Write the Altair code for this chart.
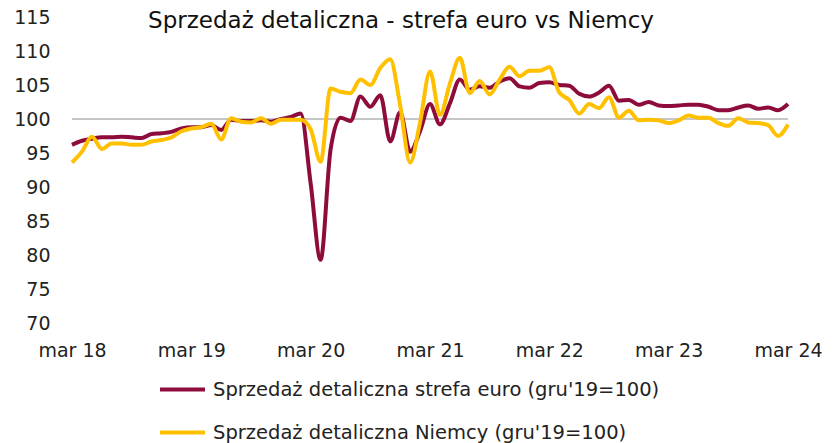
import altair as alt
import pandas as pd

# Monthly, mar 2018 .. mar 2024 (73 points)
euro = [96.2, 96.8, 97.1, 97.3, 97.3, 97.4, 97.3, 97.2, 97.8, 97.9, 98.1, 98.6,
        98.8, 98.8, 99.1, 98.4, 99.9, 99.7, 99.7, 99.8, 99.6, 100.0, 100.3, 100.8,
        90.5, 79.3, 95.5, 100.2, 99.7, 103.3, 101.8, 103.5, 96.7, 101.0, 95.2, 98.2,
        102.2, 99.2, 102.3, 105.8, 104.3, 104.8, 104.6, 105.5, 106.0, 104.8, 104.6, 105.3,
        105.4, 105.0, 104.9, 103.7, 103.3, 103.9, 104.9, 102.7, 102.8, 102.1, 102.5, 102.0,
        101.9, 102.0, 102.1, 102.1, 101.8, 101.3, 101.3, 101.7, 102.0, 101.5, 101.7, 101.3,
        102.2]
germany = [93.6, 95.2, 97.4, 95.6, 96.4, 96.4, 96.2, 96.2, 96.7, 96.9, 97.3, 98.2,
           98.6, 98.8, 99.3, 97.0, 100.1, 99.6, 99.5, 100.1, 99.3, 99.9, 99.9, 99.9,
           98.5, 93.7, 104.5, 104.0, 103.8, 105.8, 105.0, 107.5, 108.8, 102.0, 93.6, 99.5,
           107.0, 100.6, 105.2, 109.0, 103.8, 105.6, 103.6, 105.8, 107.7, 106.3, 107.1, 107.1,
           107.6, 103.9, 102.8, 100.8, 102.2, 101.6, 103.2, 100.2, 101.2, 99.8, 99.9, 99.8,
           99.4, 99.8, 100.5, 100.2, 100.2, 99.4, 99.0, 100.1, 99.5, 99.4, 99.1, 97.5,
           99.2]
tick_labels = ["mar 18", "mar 19", "mar 20", "mar 21", "mar 22", "mar 23", "mar 24"]
y_ticks = [70, 75, 80, 85, 90, 95, 100, 105, 110, 115]
series_names = ["Sprzedaż detaliczna strefa euro (gru'19=100)",
                "Sprzedaż detaliczna Niemcy (gru'19=100)"]
series_colors = ["#8E0C3C", "#FFC000"]
title_text = "Sprzedaż detaliczna  - strefa euro vs Niemcy"

rows = []
for i, v in enumerate(euro):
    rows.append({"m": i, "v": v, "s": series_names[0]})
for i, v in enumerate(germany):
    rows.append({"m": i, "v": v, "s": series_names[1]})
df = pd.DataFrame(rows)
ref_df = pd.DataFrame({"v": [100]})

label_expr = "[" + ",".join("'%s'" % t for t in tick_labels) + "][round(datum.value/12)]"
FONT = "DejaVu Sans"
FS = 19

x = alt.X("m:Q", scale=alt.Scale(domain=[0, 72], nice=False, zero=False),
          axis=alt.Axis(values=[0, 12, 24, 36, 48, 60, 72], labelExpr=label_expr,
                        title=None, domain=False, ticks=False, grid=False,
                        labelFont=FONT, labelFontSize=FS, labelColor="#222222",
                        labelPadding=18, labelFlush=False, labelOverlap=False))
y_axis = alt.Axis(values=y_ticks, title=None, domain=False,
                  ticks=False, grid=False, labelFont=FONT, labelFontSize=FS,
                  labelColor="#222222", labelPadding=22, labelOverlap=False)
y_scale = alt.Scale(domain=[70, 115], nice=False, zero=False)
y = alt.Y("v:Q", scale=y_scale, axis=y_axis)

ref = alt.Chart(ref_df).mark_rule(color="#b3b3b3", strokeWidth=1.3).encode(
    y=alt.Y("v:Q", scale=y_scale, axis=y_axis))

lines = alt.Chart(df).mark_line(strokeWidth=4, interpolate="monotone").encode(
    x=x, y=y,
    color=alt.Color("s:N",
                    scale=alt.Scale(domain=series_names, range=series_colors),
                    sort=series_names,
                    legend=alt.Legend(title=None, orient="none", legendX=86, legendY=348,
                                      direction="vertical", symbolType="stroke",
                                      symbolSize=2025, symbolStrokeWidth=4,
                                      labelFont=FONT, labelFontSize=19.5,
                                      labelColor="#222222", labelOffset=6,
                                      rowPadding=9, labelLimit=700)),
    order=alt.Order("m:Q"))

chart = alt.layer(ref, lines).properties(
    width=716, height=306,
    background="white",
    title=alt.Title(title_text, font=FONT, fontSize=23, fontWeight="normal",
                    color="#111111", anchor="middle", offset=-25, dx=-29),
    autosize=alt.AutoSizeParams(type="none"),
    padding={"left": 72, "top": 17, "right": 49, "bottom": 120},
).configure_view(stroke=None)

chart.save("out.html", embed_options={"renderer": "svg", "actions": False})
